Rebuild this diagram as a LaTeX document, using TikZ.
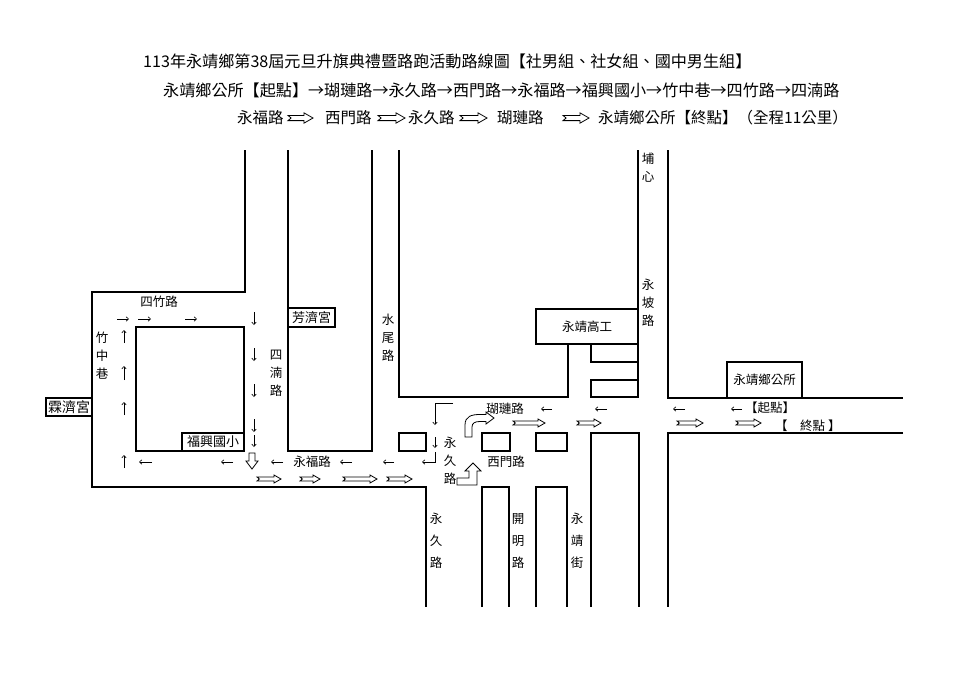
\documentclass[tikz,border=0pt]{standalone}
\usepackage{fontspec}
\setmainfont{Noto Sans CJK TC}
\usetikzlibrary{arrows.meta}
\newcommand\hra[4]{\draw[hollow] (#1,#3-#4) -- (#2-3.5*#4,#3-#4) -- (#2-3.5*#4,#3-2*#4) -- (#2,#3) -- (#2-3.5*#4,#3+2*#4) -- (#2-3.5*#4,#3+#4) -- (#1,#3+#4) -- (#1+1.2*#4,#3) -- cycle;}
\begin{document}
\begin{tikzpicture}[x=1pt,y=-1pt,
  road/.style={line width=1.4pt, line join=miter},
  lbl/.style={font=\fontsize{12.5}{15}\selectfont, inner sep=0pt},
  vlbl/.style={font=\fontsize{12.5}{18}\selectfont, align=center, inner sep=0pt},
  vlbll/.style={font=\fontsize{12.5}{22}\selectfont, align=center, inner sep=0pt},
  ttl/.style={font=\fontsize{16.1}{18}\selectfont, inner sep=0pt, anchor=west},
  ttlb/.style={font=\fontsize{15.5}{18}\selectfont, inner sep=0pt, anchor=west},
  tarr/.style={line width=0.6pt, -{Straight Barb[length=2.5pt,width=4.5pt]}},
  hollow/.style={line width=0.8pt, fill=white, line join=miter},
]
\useasboundingbox[fill=white] (0,0) rectangle (960,678);

% ---------- titles ----------
\node[ttl] (t1) at (143,61) {113年永靖鄉第38屆元旦升旗典禮暨路跑活動路線圖【社男組、社女組、國中男生組】};
\node[ttl] (t2) at (163,90) {永靖鄉公所【起點】→瑚璉路→永久路→西門路→永福路→福興國小→竹中巷→四竹路→四湳路};
\node[ttlb] (t3a) at (237,118) {永福路};
\hra{288}{313}{118}{2.6}
\node[ttlb] (t3b) at (325,118) {西門路};
\hra{378}{405}{118}{2.6}
\node[ttlb] (t3c) at (408,118) {永久路};
\hra{460}{487}{118}{2.6}
\node[ttlb] (t3d) at (497,118) {瑚璉路};
\hra{563}{589}{118}{2.6}
\node[ttlb] (t3e) at (598,118) {永靖鄉公所【終點】（全程11公里）};

% ---------- roads ----------
\draw[road] (245,150) -- (245,292) -- (92,292) -- (92,487) -- (426,487) -- (426,607);
\draw[road] (136,327) rectangle (244,451);
\draw[road] (288,150) -- (288,451) -- (372,451) -- (372,150);
\draw[road] (399,150) -- (399,397) -- (568,397) -- (568,344);
\draw[road] (638,150) -- (638,397);
\draw[road] (591,344) rectangle (638,362);
\draw[road] (591,380) rectangle (638,397);
\draw[road] (668,150) -- (668,398) -- (903,398);
\draw[road] (903,433) -- (668,433) -- (668,607);
\draw[road] (399,433) rectangle (426,451);
\draw[road] (482,433) rectangle (510,451);
\draw[road] (536,433) rectangle (567,451);
\draw[road] (482,607) -- (482,487) -- (509,487) -- (509,607);
\draw[road] (536,607) -- (536,487) -- (567,487) -- (567,607);
\draw[road] (591,607) -- (591,433) -- (639,433) -- (639,607);

% ---------- labelled boxes ----------
\draw[road, fill=white] (46,398) rectangle (92,416);
\node[lbl, font=\fontsize{14}{16}\selectfont] (linji) at (69,407) {霖濟宮};
\draw[road, fill=white] (182,433) rectangle (244,451);
\node[lbl, font=\fontsize{13}{15}\selectfont] (fuxing) at (213,442) {福興國小};
\draw[road, fill=white] (288,308) rectangle (335,327);
\node[lbl, font=\fontsize{13}{15}\selectfont] (fangji) at (311.5,318) {芳濟宮};
\draw[road, fill=white] (536,309) rectangle (638,344);
\node[lbl] (gaogong) at (587,327) {永靖高工};
\draw[road, fill=white] (727,362) rectangle (802,398);
\node[lbl] (gongsuo) at (764.5,380) {永靖鄉公所};

% ---------- road names ----------
\node[lbl] (sizhu) at (159,302) {四竹路};
\node[vlbl] (zhuzhong) at (102,356) {竹\\中\\巷};
\node[vlbl] (sinan) at (276,373) {四\\湳\\路};
\node[vlbl] (shuiwei) at (388,338) {水\\尾\\路};
\node[vlbl] (yongpo) at (648,303) {永\\坡\\路};
\node[vlbl] (puxin) at (648,168) {埔\\心};
\node[vlbl] (yongjiu1) at (450,461) {永\\久\\路};
\node[vlbll] (yongjiu2) at (436,541) {永\\久\\路};
\node[vlbll] (kaiming) at (518,541) {開\\明\\路};
\node[vlbll] (yongjingjie) at (577,541) {永\\靖\\街};
\node[lbl] (hulian) at (505,409) {瑚璉路};
\node[lbl] (ximen) at (506,462) {西門路};
\node[lbl] (yongfu) at (312,462) {永福路};
\node[lbl, anchor=west] (qidian) at (745,408) {【起點】};
\node[lbl, anchor=west] (zhongdian) at (775,426) {【　終點 】};

% ---------- thin arrows ----------
\foreach \a/\b in {117/129,138/151,185/197} \draw[tarr] (\a,319) -- (\b,319);
\foreach \a/\b in {343/330,380/366,415/402,468/455} \draw[tarr] (124,\a) -- (124,\b);
\foreach \a/\b in {312/325,348/361,384/397,419/432,435/447} \draw[tarr] (254,\a) -- (254,\b);
\foreach \a/\b in {152/139,233/221,283/271,352/340,394/383} \draw[tarr] (\a,462) -- (\b,462);
\foreach \a/\b in {552/541,607/595,685/673,742/731} \draw[tarr] (\a,409) -- (\b,409);
\draw[tarr] (453,403) -- (435,403) -- (435,425);
\draw[tarr] (435,437) -- (435,448);
\draw[tarr] (435,452) -- (435,462) -- (422,462);

% ---------- hollow arrows ----------
\foreach \a/\b in {257/281,300/320,343/377,387/412} {\hra{\a}{\b}{479}{2}}
\foreach \a/\b in {513/545,577/601,677/703,736/761} {\hra{\a}{\b}{423}{2}}
\draw[hollow] (249,453) -- (255,453) -- (255,461) -- (258,461) -- (252,469) -- (246,461) -- (249,461) -- cycle;
\draw[hollow] (465,437) -- (465,425) .. controls (465,416) and (472,414.5) .. (480,414.5) -- (486,414.5) -- (486,412) -- (494,418) -- (486,424) -- (486,421.5) -- (480,421.5) .. controls (475,421.5) and (472,423) .. (472,427) -- (472,437) -- cycle;
\draw[hollow] (457,478) -- (469,478) -- (469,471) -- (465,471) -- (473,463) -- (481,471) -- (477,471) -- (477,485) -- (457,485) -- cycle;
\end{tikzpicture}
\end{document}
